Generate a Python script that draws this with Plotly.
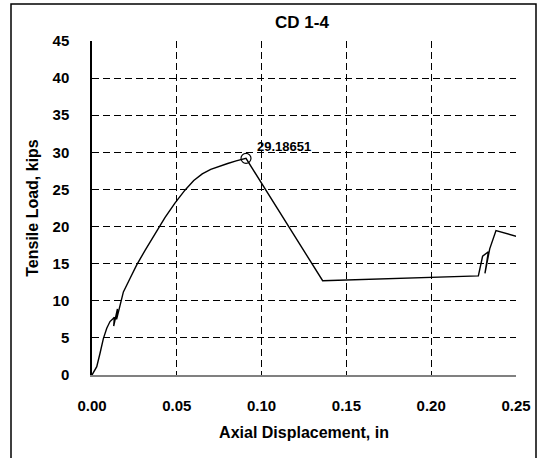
import plotly.graph_objects as go

# Load-displacement curve
disp = [0.0, 0.0028, 0.0047, 0.0067, 0.0087, 0.0106, 0.0122, 0.0132, 0.0128,
        0.0150, 0.0145, 0.0171, 0.0185, 0.0224, 0.0263, 0.0313, 0.0370,
        0.0430, 0.0490, 0.0548, 0.0600, 0.0650, 0.0700, 0.0750, 0.0800,
        0.0850, 0.0908, 0.1360, 0.1934, 0.2278, 0.2303, 0.2337, 0.2317,
        0.2345, 0.2382, 0.2524]
load = [0.0, 1.12, 2.9, 4.9, 6.3, 7.2, 7.55, 7.8, 6.6,
        8.9, 7.5, 10.1, 11.2, 13.0, 14.8, 16.8, 19.0,
        21.2, 23.2, 24.9, 26.2, 27.1, 27.7, 28.15, 28.5,
        28.85, 29.18651, 12.7, 13.05, 13.35, 16.0, 16.6, 13.7,
        17.0, 19.45, 18.55]

peak_x = [0.0908]
peak_y = [29.18651]
peak_label = "29.18651"

title_text = "CD 1-4"
x_title = "Axial Displacement, in"
y_title = "Tensile Load, kips"
x_ticks = [0.0, 0.05, 0.10, 0.15, 0.20, 0.25]
x_ticktext = ["0.00", "0.05", "0.10", "0.15", "0.20", "0.25"]
y_ticks = [0, 5, 10, 15, 20, 25, 30, 35, 40, 45]

FONT = "Liberation Sans, Arial, sans-serif"

fig = go.Figure()
fig.add_trace(go.Scatter(x=disp, y=load, mode="lines",
                         line=dict(color="black", width=1.4),
                         showlegend=False, hoverinfo="x+y"))
fig.add_trace(go.Scatter(x=peak_x, y=peak_y, mode="markers",
                         marker=dict(symbol="circle-open", size=10,
                                     color="black", line=dict(width=1.2)),
                         showlegend=False, cliponaxis=False))

fig.add_annotation(x=0.0961, y=30.85, xref="x", yref="y",
                   text="<b>" + peak_label + "</b>", showarrow=False,
                   xanchor="left", yanchor="middle",
                   font=dict(family=FONT, size=13, color="black"))

fig.update_layout(
    width=540, height=458,
    margin=dict(l=92, r=24, t=41, b=83, autoexpand=False),
    paper_bgcolor="white", plot_bgcolor="white",
    title=dict(text="<b>" + title_text + "</b>", x=(302 / 540), xanchor="center",
               y=1 - 22 / 458, yanchor="middle",
               font=dict(family=FONT, size=17, color="black")),
    font=dict(family=FONT, color="black"),
)

fig.update_xaxes(range=[0, 0.25], tickvals=x_ticks, ticktext=x_ticktext,
                 automargin=False,
                 showgrid=True, gridcolor="black", gridwidth=1, griddash="7px,4px",
                 showline=True, linecolor="#808080", linewidth=2,
                 zeroline=False, ticks="", ticklabelstandoff=16,
                 tickfont=dict(family=FONT, size=15, weight="bold", color="black"),
                 title=dict(text="<b>" + x_title + "</b>", standoff=14,
                            font=dict(family=FONT, size=16, color="black")))
fig.update_yaxes(range=[0, 45], tickvals=y_ticks,
                 automargin=False,
                 showgrid=True, gridcolor="black", gridwidth=1, griddash="7px,4px",
                 showline=True, linecolor="black", linewidth=1.5,
                 zeroline=False, ticks="", ticklabelstandoff=18,
                 tickfont=dict(family=FONT, size=15, weight="bold", color="black"),
                 title=dict(text="<b>" + y_title + "</b>", standoff=10,
                            font=dict(family=FONT, size=16, color="black")))

# outer frame
fig.add_shape(type="rect", xref="paper", yref="paper",
              x0=(11 - 92) / 424, x1=(536 - 92) / 424,
              y0=(375 - 462) / 334, y1=(375 - 4) / 334,
              line=dict(color="black", width=1.5), layer="below")

fig.write_html("out.html", config={"displayModeBar": False},
               post_script="document.body.style.margin='0';document.body.style.overflow='hidden';")
